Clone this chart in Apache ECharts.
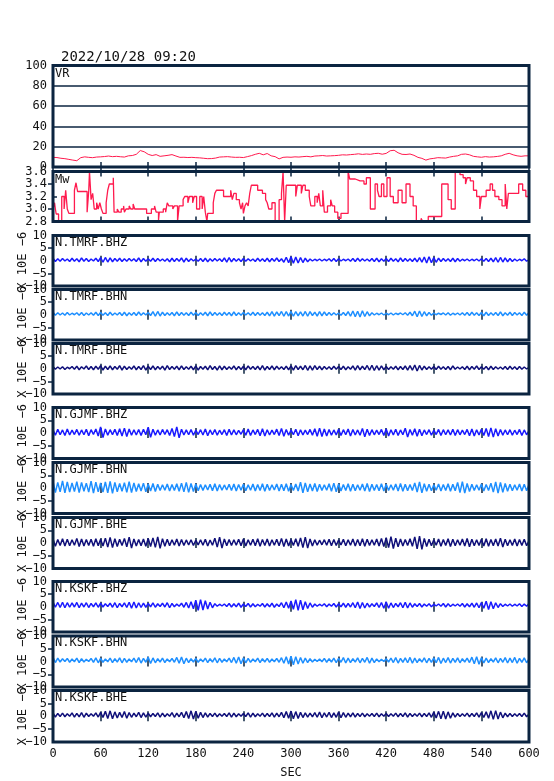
<!DOCTYPE html>
<html><head><meta charset="utf-8">
<script src="https://cdn.jsdelivr.net/npm/echarts@6/dist/echarts.min.js"></script>
<style>html,body{margin:0;padding:0;background:#fff}#c{width:554px;height:781px}</style>
</head><body><div id="c"></div>
<script>
const TITLE = '2022/10/28 09:20';
const X_MIN = 0, X_MAX = 600, X_INTERVAL = 60;
const VR_STEP = 5;
const VR = [9.5,9.3,8.6,8.2,7.5,6.8,6.2,9.2,10,9.5,9.2,9.8,10,10.3,10.8,10.2,10.5,10.1,9.8,11,11.3,12.5,16.2,15,12.5,11.3,12.2,10.5,11,11.5,12.2,10.8,9.5,9.6,9.3,9.5,9.2,9,8.6,8.2,8.3,8.8,9.8,10,10.2,9.8,9.5,9.6,9.3,10.2,11.2,12.5,13.5,12,13.3,11,10.2,8,9.5,9.8,9.6,10,9.8,10.2,10.5,10,10.8,11,11.3,10.8,11,11.2,11.5,12,11.8,12.2,12.5,13,12.4,12.8,12.5,13.2,13.5,12.6,13.4,16,16.5,14,12.5,12.3,12.8,11.5,9.5,8.5,6.8,8,8.5,9.2,9,8.8,9.8,10.5,11,12.5,12.8,12,10.5,10,9.6,10.2,9.8,10,10.4,11,12.5,13.5,12,11,10.5,11,11];
const MW_T = [0,2,3,4,7,11,14,16,18,20,27,29,31,43,45,46,48,50,52,55,57,59,61,63,67,69,71,76,77,81,83,86,89,90,92,96,98,101,103,118,124,128,130,133,134,139,142,144,146,151,153,157,159,164,166,170,172,176,178,181,185,188,190,192,194,195,202,204,206,215,224,226,228,231,235,237,239,240,242,244,246,248,250,258,264,268,270,272,276,280,285,288,290,292,294,306,308,313,315,318,323,325,330,333,335,337,340,342,346,350,352,355,359,363,372,374,381,387,392,395,400,406,409,411,414,417,421,425,429,435,440,445,450,454,458,464,466,473,490,498,502,507,513,517,520,522,526,530,534,538,540,546,551,554,557,562,566,570,572,574,580,587,592,596,600];
const MW = [3.0,3.1,3.0,2.92,2.8,3.2,3.0,3.3,3.0,2.93,3.3,3.42,3.28,2.95,3.28,3.6,3.15,3.25,3.0,3.1,3.0,3.1,3.0,2.93,3.1,3.3,3.4,3.5,2.95,3.0,2.95,3.0,3.05,2.95,3.0,3.05,3.0,3.08,3.0,2.93,3.0,3.05,2.95,2.82,2.95,3.0,2.95,3.1,3.05,3.0,3.05,2.8,3.05,3.15,3.2,3.1,3.2,3.1,3.2,3.0,3.2,3.0,3.2,2.95,2.8,2.93,3.1,3.25,3.3,3.2,3.3,3.15,3.25,3.15,3.1,3.0,3.1,2.93,3.05,3.1,3.05,3.25,3.38,3.3,3.25,3.15,3.1,3.0,3.1,2.8,3.15,3.25,3.6,2.8,3.38,3.2,3.38,3.25,3.38,3.3,3.2,3.05,3.2,3.1,3.25,3.05,3.3,2.95,3.05,3.15,3.05,2.95,2.85,2.93,3.6,3.48,3.45,3.45,3.4,3.5,3.0,3.4,3.3,3.2,3.4,3.2,3.5,3.2,3.1,3.3,3.1,3.4,3.2,3.05,2.8,2.85,2.8,2.88,3.4,3.15,3.0,3.6,3.55,3.5,3.4,3.5,3.45,3.3,3.2,3.0,3.2,3.3,3.4,3.3,3.2,3.15,3.05,3.4,3.0,3.25,3.25,3.4,3.3,3.2,3.25];
const VR_TICKS = {min:0,max:100,interval:20};
const MW_TICKS = {min:2.8,max:3.6,interval:0.2};
const WAVE_TICKS = {min:-10,max:10,interval:5};
const WAVE_STEP = 3;
const WAVE_NAMES = ['N.TMRF.BHZ','N.TMRF.BHN','N.TMRF.BHE','N.GJMF.BHZ','N.GJMF.BHN','N.GJMF.BHE','N.KSKF.BHZ','N.KSKF.BHN','N.KSKF.BHE'];
const Y_UNIT = 'X 10E \u22126';
const X_NAME = 'SEC';

const TMRF_BHZ = [1.0,-0.3,0.8,-0.2,0.9,-0.1,0.7,-0.3,1.0,-0.2,0.8,-0.4,1.1,-0.2,0.9,-0.3,0.7,-0.1,1.0,-0.3,
1.2,-0.6,1.3,-0.5,1.1,-0.4,0.9,-0.2,1.0,-0.3,0.8,-0.2,0.9,-0.1,0.8,-0.3,1.1,-0.4,0.9,-0.2,
0.8,-0.2,1.0,-0.3,0.9,-0.1,0.7,-0.2,0.8,-0.4,1.0,-0.3,0.9,-0.2,1.1,-0.5,1.0,-0.3,0.8,-0.1,
0.7,-0.2,0.9,-0.3,1.0,-0.4,0.8,-0.2,0.9,-0.1,0.8,-0.3,1.1,-0.5,1.2,-0.4,0.9,-0.2,0.8,-0.3,
0.9,-0.2,0.8,-0.1,0.7,-0.3,1.0,-0.2,0.8,-0.3,1.0,-0.4,0.9,-0.2,1.1,-0.3,0.8,-0.6,1.4,-0.8,
1.6,-1.0,1.5,-0.9,1.3,-0.7,1.0,-0.4,0.7,-0.1,0.6,0.0,0.7,-0.1,0.6,0.0,0.8,-0.2,0.9,-0.3,
0.8,-0.1,0.6,0.0,0.7,-0.2,0.9,-0.3,1.0,-0.2,0.8,-0.1,0.7,-0.2,0.9,-0.3,1.0,-0.4,0.8,-0.2,
0.9,-0.3,1.0,-0.2,0.8,-0.4,1.1,-0.3,0.9,-0.2,0.8,-0.3,1.0,-0.4,1.2,-0.6,1.5,-0.9,1.6,-0.8,
1.3,-0.6,1.0,-0.3,0.9,-0.2,0.8,-0.3,1.0,-0.4,0.9,-0.2,0.6,0.0,0.7,-0.1,0.6,0.0,0.7,-0.1,
0.8,-0.2,0.9,-0.3,1.0,-0.4,1.2,-0.6,1.3,-0.5,1.1,-0.4,0.9,-0.3,0.7,-0.1,0.6,0.0,0.8,-0.2,0.5];
const TMRF_BHN = [1.0,-0.2,0.8,-0.1,0.7,-0.2,0.9,-0.1,0.6,0.0,0.8,-0.2,0.9,-0.3,0.7,-0.1,0.8,-0.2,1.0,-0.3,
0.9,-0.2,0.8,-0.3,1.0,-0.2,0.7,-0.1,0.9,-0.3,1.0,-0.4,0.8,-0.2,0.9,-0.3,1.1,-0.2,0.8,-0.1,
0.9,-0.3,1.2,-0.6,1.3,-0.5,1.0,-0.3,0.8,-0.2,0.9,-0.4,1.1,-0.3,0.9,-0.2,0.8,-0.3,1.0,-0.2,
0.9,-0.3,0.8,-0.2,1.0,-0.4,1.1,-0.3,0.9,-0.2,0.8,-0.3,1.0,-0.2,0.9,-0.4,1.1,-0.3,0.8,-0.2,
0.9,-0.1,0.8,-0.2,1.0,-0.3,0.9,-0.2,0.8,-0.3,1.0,-0.4,1.2,-0.5,1.1,-0.3,1.3,-0.6,1.2,-0.5,
1.3,-0.6,1.2,-0.4,1.1,-0.5,1.3,-0.6,1.2,-0.3,1.0,-0.5,1.2,-0.4,1.1,-0.3,0.9,-0.2,0.8,-0.1,
0.7,-0.2,0.9,-0.3,1.2,-0.6,1.5,-0.8,1.4,-0.9,1.6,-0.7,1.2,-0.4,0.8,-0.1,0.6,0.0,0.7,-0.1,
0.6,0.0,0.7,-0.1,0.6,0.1,0.7,0.0,0.8,-0.2,1.0,-0.4,1.4,-0.8,1.5,-0.7,1.2,-0.4,0.9,-0.2,
0.7,0.0,0.6,0.1,0.7,-0.1,0.8,-0.2,0.6,0.0,0.7,-0.1,0.8,-0.2,0.9,-0.3,1.0,-0.2,0.8,-0.3,
0.9,-0.4,1.0,-0.3,0.8,-0.2,0.9,-0.3,1.1,-0.4,0.8,-0.2,1.0,-0.3,0.9,-0.1,0.8,-0.3,1.0,-0.2,0.9];
const TMRF_BHE = [0.9,-0.2,0.7,-0.1,0.8,-0.3,0.6,0.0,0.9,-0.2,1.0,-0.4,0.8,-0.1,1.1,-0.3,0.9,-0.4,1.0,-0.2,
1.2,-0.5,1.0,-0.3,1.1,-0.4,0.9,-0.2,1.2,-0.5,1.0,-0.3,0.8,-0.2,1.1,-0.4,0.9,-0.3,1.2,-0.5,
1.0,-0.3,1.1,-0.4,0.9,-0.2,1.0,-0.5,1.2,-0.3,0.9,-0.2,1.0,-0.4,1.1,-0.3,0.8,-0.2,1.0,-0.4,
1.1,-0.5,0.9,-0.2,1.0,-0.4,1.2,-0.3,0.9,-0.5,1.1,-0.4,1.0,-0.3,0.8,-0.2,1.1,-0.4,0.9,-0.3,
1.0,-0.4,1.1,-0.2,0.9,-0.3,1.0,-0.4,1.2,-0.5,0.9,-0.3,1.1,-0.4,1.0,-0.2,0.8,-0.3,1.0,-0.4,
1.1,-0.5,1.2,-0.3,1.0,-0.4,1.3,-0.6,1.1,-0.5,1.2,-0.3,1.0,-0.4,0.9,-0.2,0.8,-0.3,1.0,-0.2,
0.9,-0.3,1.0,-0.4,0.8,-0.2,1.1,-0.5,1.2,-0.4,1.0,-0.3,1.3,-0.6,1.4,-0.7,1.2,-0.5,1.1,-0.4,
0.9,-0.3,0.8,-0.2,1.0,-0.4,0.9,-0.3,1.1,-0.5,1.2,-0.6,1.5,-0.9,1.3,-0.5,1.0,-0.3,0.8,-0.2,
0.9,-0.3,1.0,-0.2,0.8,-0.3,0.9,-0.4,1.1,-0.2,0.7,-0.1,0.8,-0.3,1.0,-0.4,0.9,-0.2,1.1,-0.3,
0.8,-0.2,0.9,-0.4,1.0,-0.3,0.8,-0.1,0.7,-0.2,0.9,-0.3,1.0,-0.2,0.8,-0.3,0.9,-0.2,0.7,-0.1,0.6];
const GJMF_BHZ = [1.3,-0.9,1.5,-0.7,1.2,-1.0,1.6,-0.8,1.1,-0.6,1.4,-0.9,1.2,-0.7,1.5,-1.1,1.3,-0.6,1.6,-1.2,
2.4,-1.8,1.6,-0.9,1.3,-0.7,1.5,-1.0,1.7,-1.2,1.9,-1.4,1.6,-0.9,1.3,-0.8,1.4,-1.0,1.5,-0.7,
2.3,-1.7,1.5,-0.9,1.2,-0.8,1.4,-0.6,1.3,-1.0,1.8,-1.4,2.4,-1.9,1.5,-0.8,1.2,-0.7,1.4,-0.9,
1.1,-0.6,1.3,-0.8,1.6,-1.1,1.2,-0.7,1.4,-0.9,1.1,-0.6,1.3,-1.0,1.5,-0.8,1.2,-0.7,1.0,-0.5,
1.3,-0.9,1.6,-1.0,1.2,-0.6,1.4,-1.1,1.7,-1.2,1.3,-0.8,1.1,-0.6,1.5,-1.0,1.8,-1.3,1.4,-0.9,
1.2,-0.7,1.5,-1.1,1.3,-0.8,1.1,-0.6,1.4,-0.9,1.7,-1.3,1.9,-1.4,1.6,-1.2,1.4,-0.9,1.2,-0.8,
1.5,-1.0,1.3,-0.7,1.6,-1.2,1.4,-0.8,1.2,-0.9,1.8,-1.5,1.5,-1.0,1.3,-0.7,1.1,-0.6,1.4,-1.0,
1.6,-1.2,1.3,-0.8,1.5,-1.0,1.2,-0.7,1.9,-1.6,1.4,-0.9,1.7,-1.3,1.5,-1.1,1.2,-0.6,1.3,-0.9,
1.1,-0.6,1.4,-1.0,1.3,-0.7,1.2,-0.8,1.5,-1.0,1.3,-0.7,1.1,-0.6,1.4,-1.1,1.6,-1.2,1.3,-0.8,
1.5,-1.0,1.8,-1.4,2.0,-1.6,1.7,-1.2,1.4,-0.9,1.2,-0.7,1.3,-0.9,1.1,-0.6,1.4,-1.0,1.2,-0.7,0.9];
const GJMF_BHN = [2.6,-1.8,2.2,-1.5,2.8,-1.9,2.4,-1.6,2.0,-1.4,2.5,-1.8,2.2,-1.3,1.9,-1.6,2.7,-2.0,2.3,-1.5,
2.0,-1.6,2.4,-1.9,2.6,-2.1,2.2,-1.5,1.8,-1.3,2.1,-1.7,2.5,-1.8,2.0,-1.4,1.7,-1.2,1.9,-1.5,
1.6,-1.2,1.8,-1.4,1.5,-1.0,1.3,-0.9,1.6,-1.2,1.4,-1.0,1.7,-1.3,1.9,-1.5,2.2,-1.7,1.8,-1.4,
1.6,-1.1,1.4,-1.0,1.3,-0.8,1.5,-1.1,1.7,-1.2,1.4,-0.9,1.2,-0.8,1.5,-1.0,1.6,-1.2,1.4,-0.9,
1.5,-1.1,1.3,-0.9,1.6,-1.2,1.4,-1.0,1.7,-1.3,1.5,-1.0,1.3,-0.8,1.6,-1.2,1.5,-1.1,1.7,-1.3,
1.4,-1.0,1.6,-1.2,2.3,-1.9,2.0,-1.5,1.6,-1.2,1.8,-1.4,1.5,-1.0,1.3,-0.9,1.7,-1.3,1.9,-1.5,
1.6,-1.2,1.4,-1.0,1.7,-1.3,1.5,-1.1,1.3,-0.9,1.6,-1.2,1.8,-1.4,1.5,-1.0,1.4,-1.1,1.7,-1.2,
1.5,-1.0,1.3,-0.9,1.6,-1.2,1.8,-1.3,1.5,-1.1,1.4,-1.0,2.0,-1.6,2.4,-1.9,1.7,-1.3,1.5,-1.1,
1.3,-0.9,1.6,-1.2,1.4,-1.0,1.7,-1.3,1.5,-1.1,2.2,-1.8,2.5,-2.0,1.8,-1.4,1.5,-1.0,1.3,-0.9,
1.6,-1.2,1.4,-1.0,1.9,-1.6,2.4,-2.0,2.2,-1.7,1.8,-1.3,1.5,-1.1,1.3,-0.9,1.6,-1.2,1.5,-1.1,1.4];
const GJMF_BHE = [1.6,-1.3,1.4,-1.0,1.7,-1.2,1.5,-1.1,1.3,-0.9,1.8,-1.4,1.6,-1.2,1.4,-1.0,1.5,-1.3,1.7,-1.1,
1.5,-1.2,1.9,-1.6,2.2,-1.8,1.7,-1.4,1.5,-1.0,1.8,-1.5,2.3,-2.0,1.6,-1.2,1.4,-1.1,1.6,-1.3,
1.8,-1.4,2.0,-1.7,2.4,-2.1,1.7,-1.3,1.5,-1.1,1.3,-0.9,1.6,-1.2,1.4,-1.0,1.2,-0.8,1.3,-1.0,
1.1,-0.8,1.3,-0.9,1.5,-1.2,1.2,-0.9,1.9,-1.6,2.3,-2.0,1.6,-1.1,1.4,-1.0,1.3,-0.9,1.5,-1.1,
1.6,-1.2,1.3,-0.9,1.5,-1.1,1.7,-1.3,1.4,-1.0,1.6,-1.2,1.3,-0.9,1.5,-1.1,1.8,-1.4,1.6,-1.2,
1.4,-1.0,1.7,-1.3,2.0,-1.8,2.3,-2.0,1.6,-1.2,1.3,-0.9,1.1,-0.7,1.3,-0.9,1.5,-1.1,1.4,-1.0,
1.2,-0.8,1.5,-1.1,1.3,-0.9,1.6,-1.2,1.4,-1.1,1.7,-1.3,1.5,-1.0,1.3,-0.9,1.6,-1.2,1.8,-1.4,
2.1,-1.8,2.5,-2.2,1.9,-1.5,1.6,-1.2,1.4,-1.0,1.7,-1.3,2.4,-2.3,2.7,-2.5,1.8,-1.4,1.5,-1.1,
1.3,-0.9,1.6,-1.3,1.4,-1.0,1.7,-1.4,1.5,-1.1,1.3,-0.9,1.6,-1.2,1.8,-1.5,1.5,-1.1,1.3,-1.0,
1.5,-1.2,1.7,-1.3,1.4,-1.1,1.6,-1.2,1.9,-1.6,1.5,-1.1,1.3,-1.0,1.6,-1.2,1.4,-1.0,1.5,-1.1,1.0];
const KSKF_BHZ = [2.0,-0.2,1.7,-0.3,1.8,-0.4,1.6,-0.2,1.5,-0.1,1.7,-0.4,1.4,-0.1,1.6,-0.3,1.3,0.0,1.5,-0.2,
1.4,-0.1,1.2,0.1,1.4,-0.2,1.6,-0.4,1.3,0.0,1.5,-0.3,1.8,-0.6,1.9,-0.5,1.6,-0.3,1.4,-0.2,
1.3,0.0,1.5,-0.2,1.2,0.1,1.4,-0.1,1.6,-0.4,1.3,0.0,1.1,0.2,1.4,-0.2,1.7,-0.5,2.0,-0.8,
2.6,-1.4,2.8,-1.3,2.4,-0.9,1.8,-0.4,1.2,0.2,1.0,0.3,1.1,0.1,1.3,-0.1,1.2,0.0,1.4,-0.2,
1.1,0.1,1.3,-0.1,1.2,0.0,1.0,0.2,1.3,-0.1,1.2,0.0,1.4,-0.2,1.1,0.1,1.6,-0.4,1.9,-0.6,
2.3,-1.0,2.8,-1.4,2.6,-1.2,2.0,-0.7,1.5,-0.2,1.1,0.2,1.0,0.3,1.2,0.0,1.1,0.2,1.3,-0.1,
1.2,0.0,1.4,-0.2,1.3,-0.1,1.6,-0.4,1.9,-0.7,1.7,-0.5,1.4,-0.1,1.2,0.1,1.5,-0.3,1.7,-0.6,
1.9,-0.6,1.5,-0.3,1.3,0.0,1.6,-0.4,1.8,-0.5,1.5,-0.2,1.2,0.1,1.3,-0.1,1.1,0.2,1.2,0.0,
1.0,0.3,1.1,0.2,1.3,-0.1,1.2,0.1,1.0,0.3,1.1,0.2,1.3,-0.1,1.2,0.0,1.4,-0.2,1.5,-0.4,
1.7,-0.6,2.2,-1.1,2.0,-0.8,1.6,-0.3,1.2,0.1,1.0,0.3,1.1,0.2,1.0,0.3,1.2,0.1,1.1,0.2,1.3];
const KSKF_BHN = [1.6,-0.4,1.3,-0.2,1.1,0.0,1.2,-0.3,1.0,-0.1,1.3,-0.4,1.1,-0.2,0.9,0.0,1.2,-0.3,1.4,-0.5,
1.2,-0.3,1.0,-0.1,1.3,-0.4,1.1,-0.2,1.4,-0.5,1.2,-0.3,1.0,-0.1,1.3,-0.4,1.5,-0.6,1.2,-0.3,
1.7,-0.8,1.4,-0.5,1.1,-0.2,1.3,-0.4,1.0,-0.1,1.2,-0.3,1.6,-0.7,1.8,-0.9,1.3,-0.4,1.1,-0.2,
1.2,-0.3,1.0,-0.1,1.3,-0.4,1.1,-0.2,1.4,-0.5,1.2,-0.3,1.0,-0.1,1.3,-0.4,1.6,-0.7,1.8,-0.9,
1.4,-0.5,1.2,-0.3,1.0,-0.1,1.3,-0.4,1.1,-0.2,1.2,-0.3,1.0,-0.1,1.2,-0.3,1.5,-0.7,1.9,-1.0,
2.1,-1.3,1.9,-1.0,1.6,-0.7,1.3,-0.4,1.1,-0.2,0.9,0.0,1.0,-0.1,1.2,-0.3,1.1,-0.2,1.3,-0.4,
1.2,-0.3,1.5,-0.6,1.3,-0.4,1.1,-0.2,1.4,-0.5,1.2,-0.3,1.6,-0.7,1.3,-0.4,1.0,-0.1,0.9,0.0,
1.1,-0.2,1.3,-0.4,1.5,-0.6,1.2,-0.3,1.4,-0.5,1.6,-0.7,1.3,-0.4,1.1,-0.2,1.4,-0.5,1.2,-0.3,
1.4,-0.5,1.6,-0.8,1.3,-0.4,1.5,-0.6,1.2,-0.3,1.4,-0.5,1.1,-0.2,1.3,-0.4,1.7,-0.9,1.9,-1.1,
1.5,-0.6,1.3,-0.4,1.1,-0.2,1.4,-0.5,1.2,-0.3,1.5,-0.6,1.3,-0.4,1.6,-0.7,1.2,-0.3,1.4,-0.5,1.0];
const KSKF_BHE = [1.3,-0.3,1.1,-0.1,1.2,-0.2,1.0,0.0,1.3,-0.3,1.1,-0.2,1.4,-0.4,1.2,-0.1,1.0,0.0,1.3,-0.3,
1.5,-0.5,1.9,-0.9,2.1,-1.0,1.7,-0.7,1.5,-0.5,1.8,-0.8,1.4,-0.4,1.2,-0.2,1.5,-0.5,1.3,-0.3,
1.2,-0.2,1.1,-0.1,1.3,-0.3,1.2,-0.2,1.0,0.0,1.4,-0.4,1.2,-0.2,1.5,-0.6,1.8,-0.9,2.1,-1.1,
1.9,-0.8,1.5,-0.5,1.3,-0.3,1.1,-0.1,1.2,-0.2,1.0,0.0,1.1,-0.1,1.3,-0.3,1.2,-0.2,1.0,0.0,
1.1,-0.1,1.3,-0.3,1.2,-0.2,1.0,0.0,1.2,-0.2,1.1,-0.1,1.3,-0.3,1.2,-0.2,1.5,-0.6,1.8,-0.8,
2.0,-1.0,1.8,-0.9,1.5,-0.5,1.3,-0.3,1.2,-0.2,1.4,-0.4,1.6,-0.6,1.3,-0.3,1.5,-0.5,1.3,-0.4,
1.6,-0.6,1.4,-0.4,1.2,-0.2,1.3,-0.3,1.1,-0.1,1.2,-0.2,1.0,0.0,1.1,-0.1,1.2,-0.2,1.0,0.0,
1.1,-0.1,1.0,0.0,1.2,-0.2,1.1,-0.1,1.3,-0.3,1.1,-0.1,1.0,0.0,1.2,-0.2,1.1,-0.1,1.3,-0.4,
1.6,-0.7,1.9,-1.0,2.0,-1.1,1.7,-0.8,1.3,-0.3,1.1,-0.1,1.0,0.0,1.2,-0.2,1.1,-0.1,1.3,-0.3,
1.4,-0.5,1.7,-0.8,2.1,-1.2,2.2,-1.1,1.6,-0.6,1.2,-0.2,1.1,-0.1,1.0,0.0,1.1,-0.1,1.2,-0.2,0.9];
const WAVES = [TMRF_BHZ,TMRF_BHN,TMRF_BHE,GJMF_BHZ,GJMF_BHN,GJMF_BHE,KSKF_BHZ,KSKF_BHN,KSKF_BHE];

// ---- styling / layout ----
const FRAME = '#0b2440';
const TXT = '#111';
const FONT = '"DejaVu Sans Mono", monospace';
const RED = '#ff1a4e';
const COMP_COLORS = {BHZ:'#1a1aff', BHN:'#1e8fff', BHE:'#10107a'};
const LEFT = 53, WIDTH = 476;
const PANELS = [[65.5,101.5],[171.5,50],[235.5,50.5],[289.5,50.5],[343.5,50.5],[407.5,51],[462.5,51],[517.5,51],[581.5,50.5],[636,51],[690.5,51.5]];

const grid=[], xAxis=[], yAxis=[], series=[], graphic=[];
const N = PANELS.length;
PANELS.forEach((p,i)=>{
  grid.push({left:LEFT,width:WIDTH,top:p[0],height:p[1],show:true,borderColor:FRAME,borderWidth:3,
    backgroundColor:'transparent',containLabel:false,outerBoundsMode:'none',z:3});
  const last = i===N-1;
  const tick = {show:true,inside:true,length:5,lineStyle:{color:FRAME,width:1.5}};
  xAxis.push({gridIndex:i,type:'value',min:X_MIN,max:X_MAX,interval:X_INTERVAL,position:'bottom',
    axisLine:{show:false},axisTick:tick,splitLine:{show:false},
    axisLabel:{show:last,color:TXT,fontFamily:FONT,fontSize:12,margin:6},
    name:last?X_NAME:'',nameLocation:'middle',nameGap:25,nameMoveOverlap:false,
    nameTextStyle:{color:TXT,fontFamily:FONT,fontSize:12}});
  xAxis.push({gridIndex:i,type:'value',min:X_MIN,max:X_MAX,interval:X_INTERVAL,position:'top',
    axisLine:{show:false},axisTick:tick,splitLine:{show:false},axisLabel:{show:false}});
  let tk, leftTick={show:false}, rightTicks, split={show:false}, nm='';
  if(i===0){tk=VR_TICKS; rightTicks=null; split={show:true,lineStyle:{color:FRAME,width:1.5}};}
  else if(i===1){tk=MW_TICKS; rightTicks=[3.0,3.4]; leftTick={show:true,inside:true,length:4,customValues:[3.2],lineStyle:{color:FRAME,width:1.5}};}
  else {tk=WAVE_TICKS; rightTicks=[-5,5]; nm=Y_UNIT;}
  yAxis.push({gridIndex:i,type:'value',min:tk.min,max:tk.max,interval:tk.interval,position:'left',
    axisLine:{show:false},axisTick:leftTick,splitLine:split,
    axisLabel:{color:TXT,fontFamily:FONT,fontSize:12,margin:6,
      formatter:v=>{const d=(i===1)?v.toFixed(1):String(Math.round(v));return d.replace('-','\u2212');}},
    name:nm,nameLocation:'middle',nameRotate:90,nameGap:24,nameMoveOverlap:false,
    nameTextStyle:{color:TXT,fontFamily:FONT,fontSize:12}});
  yAxis.push({gridIndex:i,type:'value',min:tk.min,max:tk.max,interval:tk.interval,position:'right',
    axisLine:{show:false},splitLine:{show:false},axisLabel:{show:false},
    axisTick:rightTicks?{show:true,inside:true,length:5,customValues:rightTicks,lineStyle:{color:FRAME,width:1.5}}:{show:false}});
});

// VR
series.push({type:'line',xAxisIndex:0,yAxisIndex:0,data:VR.map((v,k)=>[k*VR_STEP,v]),
  showSymbol:false,lineStyle:{color:RED,width:1},itemStyle:{color:RED},animation:false,z:2});
// Mw
series.push({type:'line',xAxisIndex:2,yAxisIndex:2,step:'end',data:MW_T.map((t,k)=>[t,MW[k]]),
  showSymbol:false,lineStyle:{color:RED,width:1.3},itemStyle:{color:RED},animation:false,z:2});
// waveforms
WAVES.forEach((w,j)=>{
  const gi=j+2, comp=WAVE_NAMES[j].split('.')[2], c=COMP_COLORS[comp];
  series.push({type:'line',xAxisIndex:gi*2,yAxisIndex:gi*2,data:w.map((v,k)=>[k*WAVE_STEP,v]),
    showSymbol:false,lineStyle:{color:c,width:1.5},itemStyle:{color:c},animation:false,z:2});
});

const labels=['VR','Mw'].concat(WAVE_NAMES);
labels.forEach((s,i)=>{
  graphic.push({type:'text',left:LEFT+2,top:PANELS[i][0]+(i<2?2:1),z:10,
    style:{text:s,fill:TXT,font:'12px '+FONT}});
});
graphic.push({type:'text',left:61,top:50,z:10,style:{text:TITLE,fill:TXT,font:'14px '+FONT}});

const chart=echarts.init(document.getElementById('c'),null,{renderer:'canvas'});
chart.setOption({animation:false,backgroundColor:'#fff',grid,xAxis,yAxis,series,graphic});
</script></body></html>
